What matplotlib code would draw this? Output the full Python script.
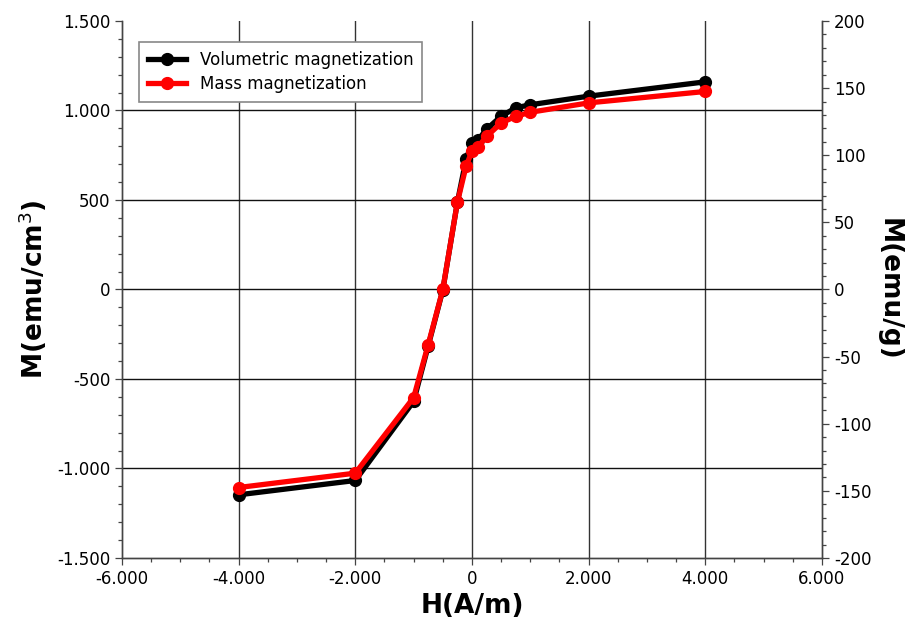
import matplotlib
matplotlib.use("Agg")
import matplotlib.pyplot as plt
from matplotlib.ticker import MultipleLocator, FuncFormatter

# Data
H = [-4000, -2000, -1000, -750, -500, -250, -100, 0, 100, 250, 500, 750, 1000, 2000, 4000]
M_vol = [-1147, -1067, -625, -315, -3, 488, 730, 817, 834, 895, 968, 1015, 1032, 1080, 1160]
M_mass = [-147.5, -136.8, -80.5, -41, 0, 65, 92, 103, 106, 114, 124, 129, 132, 139, 147.5]

label_vol = "Volumetric magnetization"
label_mass = "Mass magnetization"

plt.rcParams['font.family'] = ['DejaVu Sans']

fig = plt.figure(figsize=(9.13, 6.32), dpi=100)
ax = fig.add_axes([0.1336, 0.1171, 0.9003 - 0.1336, 0.9668 - 0.1171])
ax2 = ax.twinx()

def thousands(v, pos):
    s = f"{int(round(v)):,}".replace(",", ".")
    return s

# Grid
for xv in [-4000, -2000, 0, 2000, 4000]:
    ax.axvline(xv, color='#333333', lw=1.0, zorder=1)
for yv in [-1000, -500, 0, 500, 1000]:
    ax.axhline(yv, color='#111111', lw=1.0, zorder=1)

l1, = ax.plot(H, M_vol, color='black', lw=3.8, marker='o', ms=8.5, zorder=3, label=label_vol)
l2, = ax2.plot(H, M_mass, color='#ff0000', lw=3.8, marker='o', ms=8.5, zorder=4, label=label_mass)

ax.set_xlim(-6000, 6000)
ax.set_ylim(-1500, 1500)
ax2.set_ylim(-200, 200)

ax.xaxis.set_major_locator(MultipleLocator(2000))
ax.xaxis.set_minor_locator(MultipleLocator(500))
ax.yaxis.set_major_locator(MultipleLocator(500))
ax.yaxis.set_minor_locator(MultipleLocator(100))
ax2.yaxis.set_major_locator(MultipleLocator(50))
ax2.yaxis.set_minor_locator(MultipleLocator(10))
ax.xaxis.set_major_formatter(FuncFormatter(thousands))
ax.yaxis.set_major_formatter(FuncFormatter(thousands))
ax2.yaxis.set_major_formatter(FuncFormatter(thousands))

for a in (ax, ax2):
    a.spines['top'].set_visible(False)
    for s in ('left', 'right', 'bottom'):
        a.spines[s].set_color('#444444')
        a.spines[s].set_linewidth(1.0)
    a.tick_params(which='major', length=5, width=0.9, color='#444444', labelsize=12, direction='out')
    a.tick_params(which='minor', length=3, width=0.9, color='#444444', direction='out')

ax.set_xlabel("H(A/m)", fontsize=19, fontweight='bold', labelpad=4)
ax.set_ylabel("M(emu/cm$^3$)", fontsize=19, fontweight='bold', labelpad=6)
ax2.set_ylabel("M(emu/g)", fontsize=19, fontweight='bold', rotation=270, labelpad=22)

ax2.set_zorder(ax.get_zorder() + 1)
ax2.patch.set_visible(False)

leg = ax2.legend([l1, l2], [label_vol, label_mass], loc='upper left',
                 bbox_to_anchor=(0.024, 0.961), borderaxespad=0, fontsize=12, numpoints=1,
                 handlelength=2.3, fancybox=False, framealpha=1,
                 edgecolor='#888888', borderpad=0.55, labelspacing=0.35)
leg.get_frame().set_linewidth(1.2)

fig.savefig("out.png", dpi=100)
